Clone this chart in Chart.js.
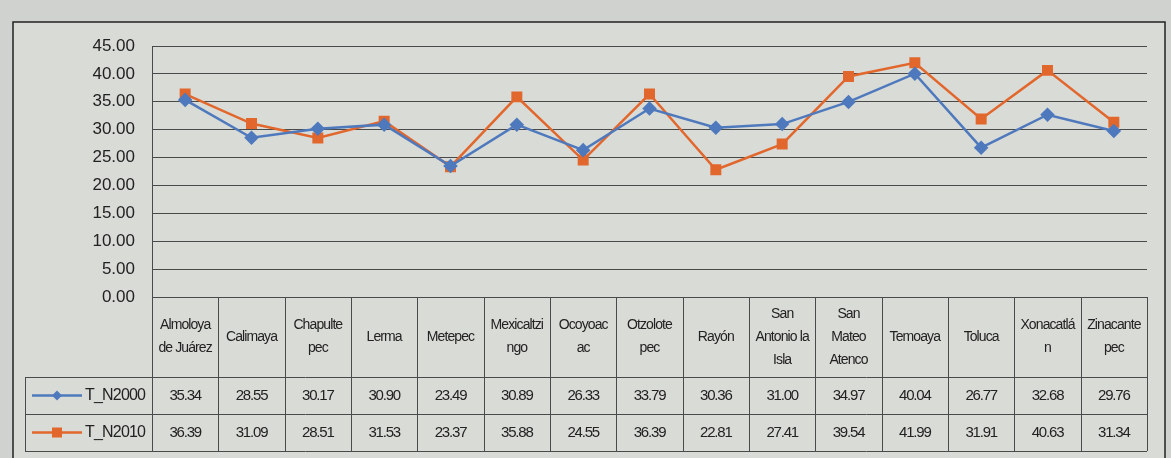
<!DOCTYPE html>
<html>
<head>
<meta charset="utf-8">
<script src="https://cdn.jsdelivr.net/npm/chart.js@4.4.1/dist/chart.umd.min.js"></script>
<style>
  html, body { margin: 0; padding: 0; background: #cfd2ce; }
  #wrap { width: 1171px; height: 458px; }
</style>
</head>
<body>
<div id="wrap"><canvas id="lineChart" width="1171" height="458"></canvas></div>
<script>
// Datos
var municipios = [
    ['Almoloya', 'de Juárez'], ['Calimaya'], ['Chapulte', 'pec'], ['Lerma'], ['Metepec'],
    ['Mexicaltzi', 'ngo'], ['Ocoyoac', 'ac'], ['Otzolote', 'pec'], ['Rayón'],
    ['San', 'Antonio la', 'Isla'], ['San', 'Mateo', 'Atenco'], ['Temoaya'], ['Toluca'],
    ['Xonacatlá', 'n'], ['Zinacante', 'pec']
];
var tn2000 = [35.34, 28.55, 30.17, 30.90, 23.49, 30.89, 26.33, 33.79, 30.36, 31.00, 34.97, 40.04, 26.77, 32.68, 29.76];
var tn2010 = [36.39, 31.09, 28.51, 31.53, 23.37, 35.88, 24.55, 36.39, 22.81, 27.41, 39.54, 41.99, 31.91, 40.63, 31.34];
var nombreSeries = ['T_N2000', 'T_N2010'];

var azul = '#4f79bd';
var naranja = '#e2672c';
var linea = '#4a4a4a';
var fuenteTabla = '"Liberation Sans Narrow", "Arial Narrow", "Liberation Sans", sans-serif';

// Plugin: marco y tabla de datos debajo del gráfico
var tablaDatos = {
    id: 'tablaDatos',
    beforeDraw: function (chart) {
        var ctx = chart.ctx;
        ctx.save();
        ctx.fillStyle = '#d9dbd7';
        ctx.fillRect(13, 22, 1152, 440);
        ctx.strokeStyle = '#222';
        ctx.lineWidth = 1.5;
        ctx.strokeRect(13, 22, 1152, 440);
        ctx.restore();
    },
    afterDraw: function (chart) {
        var ctx = chart.ctx;
        var area = chart.chartArea;
        var n = municipios.length;
        var w = area.width / n;
        var top = area.bottom;
        var fila1 = top + 80;
        var fila2 = fila1 + 37;
        var fin = fila2 + 37;
        var izq = 25;

        ctx.save();
        ctx.strokeStyle = linea;
        ctx.lineWidth = 1;

        // líneas verticales
        for (var i = 0; i <= n; i++) {
            var x = Math.round(area.left + i * w) + 0.5;
            ctx.beginPath();
            ctx.moveTo(x, top);
            ctx.lineTo(x, fin);
            ctx.stroke();
        }
        ctx.beginPath();
        ctx.moveTo(izq + 0.5, fila1);
        ctx.lineTo(izq + 0.5, fin);
        ctx.stroke();

        // líneas horizontales
        [fila1, fila2, fin].forEach(function (y) {
            ctx.beginPath();
            ctx.moveTo(izq, Math.round(y) + 0.5);
            ctx.lineTo(area.right, Math.round(y) + 0.5);
            ctx.stroke();
        });

        // encabezados
        ctx.fillStyle = '#222';
        ctx.textAlign = 'center';
        ctx.textBaseline = 'middle';
        ctx.letterSpacing = '-0.9px';
        ctx.font = '14px ' + fuenteTabla;
        municipios.forEach(function (lab, i) {
            var cx = area.left + (i + 0.5) * w;
            var lh = 23;
            var y0 = top + 40 - (lab.length - 1) * lh / 2;
            lab.forEach(function (t, k) {
                ctx.fillText(t, cx, y0 + k * lh);
            });
        });

        // valores
        ctx.letterSpacing = '-1.2px';
        ctx.font = '15px ' + fuenteTabla;
        [tn2000, tn2010].forEach(function (serie, s) {
            var cy = (s === 0 ? fila1 : fila2) + 18.5;
            serie.forEach(function (v, i) {
                ctx.fillText(v.toFixed(2), area.left + (i + 0.5) * w, cy);
            });
        });

        // leyenda
        [azul, naranja].forEach(function (c, s) {
            var cy = (s === 0 ? fila1 : fila2) + 18.5;
            ctx.strokeStyle = c;
            ctx.lineWidth = 2.5;
            ctx.beginPath();
            ctx.moveTo(32, cy);
            ctx.lineTo(82, cy);
            ctx.stroke();
            ctx.fillStyle = c;
            ctx.beginPath();
            if (s === 0) {
                ctx.moveTo(57, cy - 5);
                ctx.lineTo(62, cy);
                ctx.lineTo(57, cy + 5);
                ctx.lineTo(52, cy);
                ctx.closePath();
            } else {
                ctx.rect(52, cy - 5, 10, 10);
            }
            ctx.fill();
            ctx.fillStyle = '#222';
            ctx.textAlign = 'left';
            ctx.letterSpacing = '-0.8px';
            ctx.font = '16px ' + fuenteTabla;
            ctx.fillText(nombreSeries[s], 85, cy);
        });
        ctx.restore();
    }
};

var lineChart = new Chart(document.getElementById('lineChart'), {
    type: 'line',
    data: {
        labels: municipios.map(function (m) { return m.join(' '); }),
        datasets: [{
            label: nombreSeries[0],
            data: tn2000,
            borderColor: azul,
            backgroundColor: azul,
            borderWidth: 2.5,
            pointStyle: 'rectRot',
            pointRadius: 5.5,
            pointHoverRadius: 5.5,
            tension: 0
        }, {
            label: nombreSeries[1],
            data: tn2010,
            borderColor: naranja,
            backgroundColor: naranja,
            borderWidth: 2.5,
            pointStyle: 'rect',
            pointRadius: 6,
            pointHoverRadius: 6,
            tension: 0
        }]
    },
    options: {
        responsive: false,
        animation: false,
        layout: { padding: { top: 46, left: 0, right: 24, bottom: 161 } },
        plugins: {
            legend: { display: false },
            tooltip: { enabled: false }
        },
        scales: {
            x: { display: false, offset: true },
            y: {
                min: 0,
                max: 45,
                afterFit: function (scale) { scale.width = 152; },
                border: { display: true, color: linea, width: 1 },
                grid: { color: linea, lineWidth: 1, drawTicks: false },
                ticks: {
                    stepSize: 5,
                    padding: 17,
                    color: '#222',
                    font: { family: '"Liberation Sans", Arial, sans-serif', size: 17 },
                    callback: function (v) { return v.toFixed(2); }
                }
            }
        }
    },
    plugins: [tablaDatos]
});
</script>
</body>
</html>
